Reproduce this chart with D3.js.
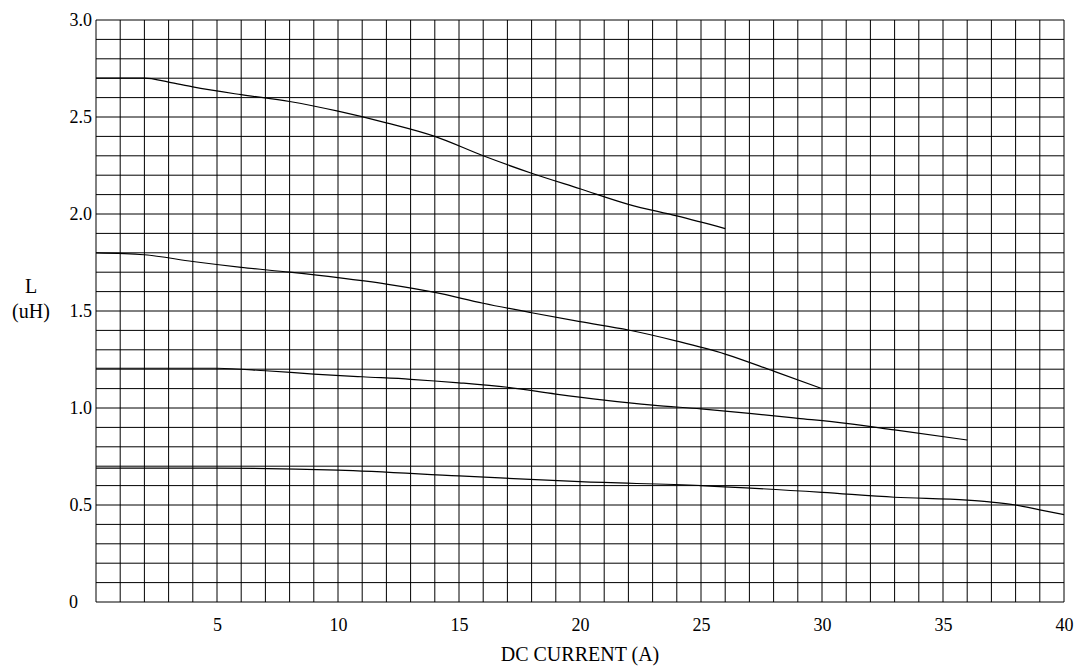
<!DOCTYPE html>
<html>
<head>
<meta charset="utf-8">
<script src="https://cdn.jsdelivr.net/npm/d3@7"></script>
<style>
  body { margin: 0; background: #fff; }
  svg text { font-family: "Liberation Serif", "Times New Roman", serif !important; fill: #000; }
</style>
</head>
<body>
<svg></svg>
<script>
// curves: [current A, inductance uH]
const curveA = [[0,2.70],[2,2.70],[3,2.68],[4,2.655],[6,2.615],[8,2.58],[10,2.53],[12,2.47],[14,2.40],[16,2.30],[18,2.21],[20,2.13],[22,2.05],[24,1.99],[26,1.925]];
const curveB = [[0,1.80],[2,1.79],[4,1.755],[6,1.725],[8,1.70],[10,1.672],[12,1.639],[14,1.596],[16,1.54],[18,1.491],[20,1.445],[22,1.402],[24,1.345],[26,1.278],[28,1.19],[30,1.10]];
const curveC = [[0,1.205],[5,1.205],[7,1.192],[9,1.175],[11,1.161],[13,1.148],[15,1.13],[17,1.107],[19,1.072],[21,1.041],[23,1.015],[25,0.995],[27,0.972],[29,0.947],[31,0.921],[33,0.887],[36,0.835]];
const curveD = [[0,0.69],[5,0.69],[10,0.68],[15,0.65],[20,0.62],[25,0.60],[30,0.565],[33,0.54],[36,0.525],[37,0.515],[38,0.50],[39,0.475],[40,0.45]];
const curves = [curveA, curveB, curveC, curveD];

const xTicks = [5, 10, 15, 20, 25, 30, 35, 40];
const yTicks = [0, 0.5, 1.0, 1.5, 2.0, 2.5, 3.0];

const WIDTH = 1077, HEIGHT = 668;
const MARGIN = { top: 20, right: 13, bottom: 66, left: 96 };

const svg = d3.select('svg')
  .attr('width', WIDTH)
  .attr('height', HEIGHT);

const x = d3.scaleLinear().domain([0, 40]).range([MARGIN.left, WIDTH - MARGIN.right]);
const y = d3.scaleLinear().domain([0, 3]).range([HEIGHT - MARGIN.bottom, MARGIN.top]);

// grid: 1 A by 0.1 uH
svg.append('g')
  .selectAll('line.v')
  .data(d3.range(0, 41))
  .enter()
  .append('line')
  .attr('x1', d => x(d)).attr('x2', d => x(d))
  .attr('y1', y(0)).attr('y2', y(3))
  .attr('stroke', '#000').attr('stroke-width', 1);

svg.append('g')
  .selectAll('line.h')
  .data(d3.range(0, 31).map(i => i / 10))
  .enter()
  .append('line')
  .attr('x1', x(0)).attr('x2', x(40))
  .attr('y1', d => y(d)).attr('y2', d => y(d))
  .attr('stroke', '#000').attr('stroke-width', 1);

// axes (labels only)
const xAxis = svg.append('g')
  .attr('transform', `translate(0, ${y(0)})`)
  .call(d3.axisBottom(x).tickValues(xTicks).tickSize(0).tickPadding(16).tickFormat(d3.format('d')));
xAxis.select('.domain').remove();
xAxis.selectAll('text').style('font-size', '18px');

const yAxis = svg.append('g')
  .attr('transform', `translate(${x(0)}, 0)`)
  .call(d3.axisLeft(y).tickValues(yTicks).tickSize(0).tickPadding(4)
    .tickFormat(d => d === 0 ? '0' : d3.format('.1f')(d)));
yAxis.select('.domain').remove();
yAxis.selectAll('text')
  .style('font-size', '18px')
  .attr('dx', d => d === 0 ? -14 : 0);

// curves
const line = d3.line()
  .x(d => x(d[0]))
  .y(d => y(d[1]))
  .curve(d3.curveMonotoneX);

svg.append('g')
  .selectAll('path')
  .data(curves)
  .enter()
  .append('path')
  .attr('d', line)
  .attr('fill', 'none')
  .attr('stroke', '#000')
  .attr('stroke-width', 1.2);

// titles
svg.append('text')
  .attr('x', 31).attr('y', 293)
  .attr('text-anchor', 'middle')
  .style('font-size', '20px')
  .text('L');

svg.append('text')
  .attr('x', 31).attr('y', 318)
  .attr('text-anchor', 'middle')
  .style('font-size', '20px')
  .text('(uH)');

svg.append('text')
  .attr('x', 580).attr('y', 661)
  .attr('text-anchor', 'middle')
  .style('font-size', '20px')
  .text('DC CURRENT (A)');
</script>
</body>
</html>
